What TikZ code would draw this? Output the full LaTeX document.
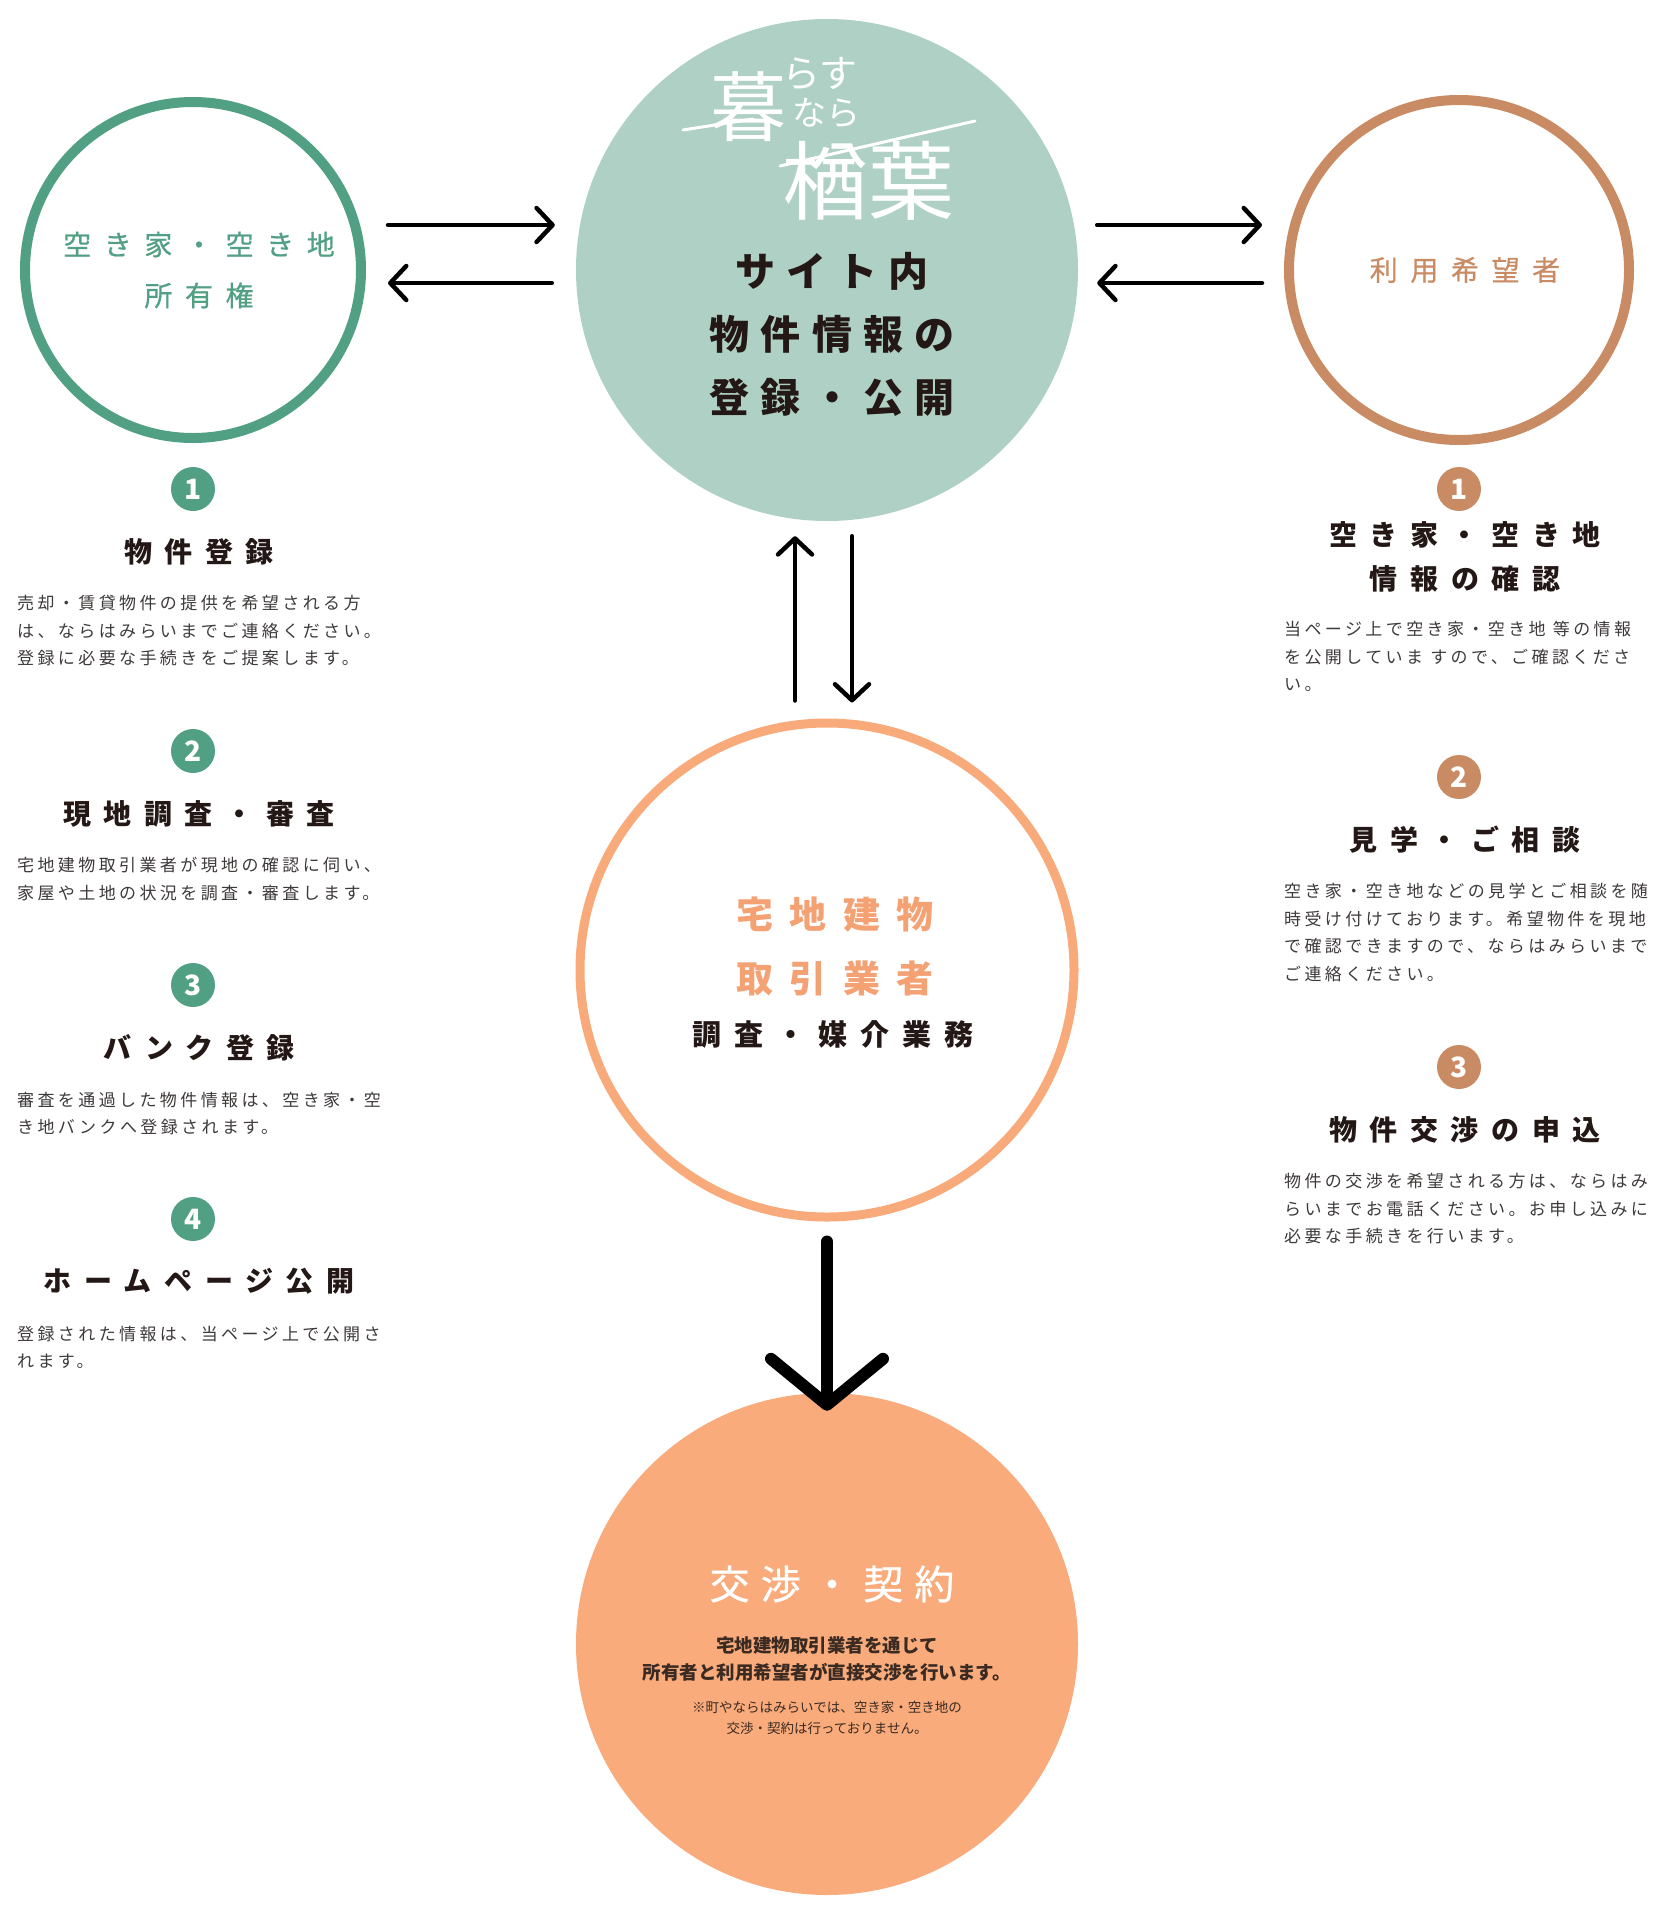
\documentclass[tikz,border=0pt]{standalone}
\usepackage{fontspec}
\setmainfont{Noto Sans CJK JP}
\newfontfamily\jpwide[LetterSpace=45]{Noto Sans CJK JP}
\newfontfamily\jpwidemed[LetterSpace=45,FakeBold=0.6]{Noto Sans CJK JP}
\newfontfamily\jpmid[LetterSpace=28]{Noto Sans CJK JP}
\newfontfamily\jpmidmed[LetterSpace=28,FakeBold=0.6]{Noto Sans CJK JP}
\newfontfamily\jpbody[LetterSpace=20]{Noto Sans CJK JP}
\usepackage{xcolor}
\definecolor{owner}{HTML}{52A083}
\definecolor{site}{HTML}{AFD0C4}
\definecolor{user}{HTML}{C98B63}
\definecolor{agent}{HTML}{F9AA7B}
\definecolor{agenttext}{HTML}{F4A274}
\definecolor{deal}{HTML}{F9AB7B}
\definecolor{ink}{HTML}{231815}
\definecolor{body}{HTML}{3E3A39}
\definecolor{dealtext}{HTML}{3A2A22}
\usetikzlibrary{arrows.meta,positioning}

\begin{document}
\begin{tikzpicture}[x=1pt,y=-1pt,
	ring/.style={
		circle, draw,
		line width=10pt,
		minimum size=336pt,
		inner sep=0pt
	},
	disc/.style={
		circle,
		minimum size=502pt,
		inner sep=0pt
	},
	badge/.style={
		circle,
		minimum size=44pt,
		inner sep=0pt,
		text=white,
		font=\bfseries\fontsize{28}{28}\selectfont
	},
	heading/.style={
		font=\jpwide\bfseries\fontsize{28}{44}\selectfont,
		text=ink,
		align=center,
		inner sep=0pt,
		xshift=6pt
	},
	note/.style={
		font=\jpbody\fontsize{17}{27.5}\selectfont,
		text=body,
		align=left,
		anchor=north west,
		inner sep=0pt
	},
	logo/.style={text=white, inner sep=0pt},
	flow/.style={line width=4.5pt, line cap=round, -{Straight Barb[length=16pt,width=34pt,round]}},
	bigflow/.style={line width=12pt, line cap=round, -{Straight Barb[length=46pt,width=112pt,round]}},
	node distance=27pt
	]
	\fill[white] (0,0) rectangle (1658,1920);
	\useasboundingbox (0,0) rectangle (1658,1920);

	% circles
	\node[ring, draw=owner] (owner) at (193,270) {};
	\node[disc, fill=site] (site) at (827,270) {};
	\node[ring, draw=user, minimum size=340pt] (user) at (1459,270) {};
	\node[ring, draw=agent, line width=9pt, minimum size=494pt] (agent) at (827,970) {};
	\node[disc, fill=deal] (deal) at (827,1644) {};

	% logo
	\node[logo, font=\fontsize{76}{76}\selectfont] (kure) at (748,107) {暮};
	\node[logo, font=\fontsize{38}{38}\selectfont] (rasu) at (820,74) {らす};
	\node[logo, font=\fontsize{34}{34}\selectfont] (nara) at (826,113) {なら};
	\node[logo, font=\fontsize{86}{86}\selectfont] (naraha) at (868,181) {楢葉};
	\draw[white, line width=3pt, line cap=round] (683,130) -- (753,119);
	\draw[white, line width=3pt, line cap=round] (780,166) -- (975,121);

	% circle labels
	\node[font=\jpwidemed\fontsize{28}{51}\selectfont, text=owner, align=center, xshift=6pt] (ownerlbl) at (193,270) {空き家・空き地\\所有権};
	\node[font=\jpwidemed\fontsize{28}{28}\selectfont, text=user, xshift=6pt] (userlbl) at (1459,270) {利用希望者};
	\node[font=\jpmid\bfseries\fontsize{40}{63}\selectfont, text=ink, align=center, xshift=5pt] (sitelbl) at (827,334) {サイト内\\物件情報の\\登録・公開};
	\node[font=\jpwide\bfseries\fontsize{37}{64}\selectfont, text=agenttext, align=center, xshift=8pt] (agentlbl) at (827,946) {宅地建物\\取引業者};
	\node[font=\jpwide\bfseries\fontsize{29}{29}\selectfont, text=ink, xshift=6pt] (agentsub) at (827,1034) {調査・媒介業務};
	\node[font=\jpmidmed\fontsize{40}{40}\selectfont, text=white, xshift=5pt] (deallbl) at (827,1584) {交渉・契約};
	\node[font=\bfseries\fontsize{18.5}{27}\selectfont, text=dealtext, align=center] (dealtxt) at (827,1659) {宅地建物取引業者を通じて\\所有者と利用希望者が直接交渉を行います。};
	\node[font=\fontsize{13.5}{21}\selectfont, text=dealtext, align=center] (dealnote) at (827,1718) {※町やならはみらいでは、空き家・空き地の\\交渉・契約は行っておりません。};

	% owner steps
	\node[badge, fill=owner] (o1) at (193,489) {1};
	\node[heading, below=of o1] (ot1) {物件登録};
	\node[note] (on1) at (17,595) {売却・賃貸物件の提供を希望される方\\は、ならはみらいまでご連絡ください。\\登録に必要な手続きをご提案します。};
	\node[badge, fill=owner] (o2) at (193,751) {2};
	\node[heading, below=of o2] (ot2) {現地調査・審査};
	\node[note] (on2) at (17,857) {宅地建物取引業者が現地の確認に伺い、\\家屋や土地の状況を調査・審査します。};
	\node[badge, fill=owner] (o3) at (193,985) {3};
	\node[heading, below=of o3] (ot3) {バンク登録};
	\node[note] (on3) at (17,1092) {審査を通過した物件情報は、空き家・空\\き地バンクへ登録されます。};
	\node[badge, fill=owner] (o4) at (193,1219) {4};
	\node[heading, below=of o4] (ot4) {ホームページ公開};
	\node[note] (on4) at (17,1326) {登録された情報は、当ページ上で公開さ\\れます。};

	% user steps
	\node[badge, fill=user] (u1) at (1459,489) {1};
	\node[heading, below=10pt of u1] (ut1) {空き家・空き地\\情報の確認};
	\node[note] (un1) at (1284,621) {当ページ上で空き家・空き地 等の情報\\を公開していま すので、ご確認くださ\\い。};
	\node[badge, fill=user] (u2) at (1459,777) {2};
	\node[heading, below=of u2] (ut2) {見学・ご相談};
	\node[note] (un2) at (1284,883) {空き家・空き地などの見学とご相談を随\\時受け付けております。希望物件を現地\\で確認できますので、ならはみらいまで\\ご連絡ください。};
	\node[badge, fill=user] (u3) at (1459,1067) {3};
	\node[heading, below=of u3] (ut3) {物件交渉の申込};
	\node[note] (un3) at (1284,1173) {物件の交渉を希望される方は、ならはみ\\らいまでお電話ください。お申し込みに\\必要な手続きを行います。};

	% arrows
	\draw[flow] ([xshift=22pt,yshift=45pt]owner.east) -- ([xshift=-21pt,yshift=45pt]site.west);
	\draw[flow] ([xshift=-24pt,yshift=-13pt]site.west) -- ([xshift=22pt,yshift=-13pt]owner.east);
	\draw[flow] ([xshift=19pt,yshift=45pt]site.east) -- ([xshift=-22pt,yshift=45pt]user.west);
	\draw[flow] ([xshift=-22pt,yshift=-13pt]user.west) -- ([xshift=19pt,yshift=-13pt]site.east);
	\draw[flow] ([xshift=-32pt,yshift=18pt]agent.north) -- ([xshift=-32pt,yshift=-15pt]site.south);
	\draw[flow] ([xshift=25pt,yshift=-15pt]site.south) -- ([xshift=25pt,yshift=16pt]agent.north);
	\draw[bigflow] ([yshift=-20pt]agent.south) -- ([yshift=-18pt]deal.north);
\end{tikzpicture}
\end{document}
